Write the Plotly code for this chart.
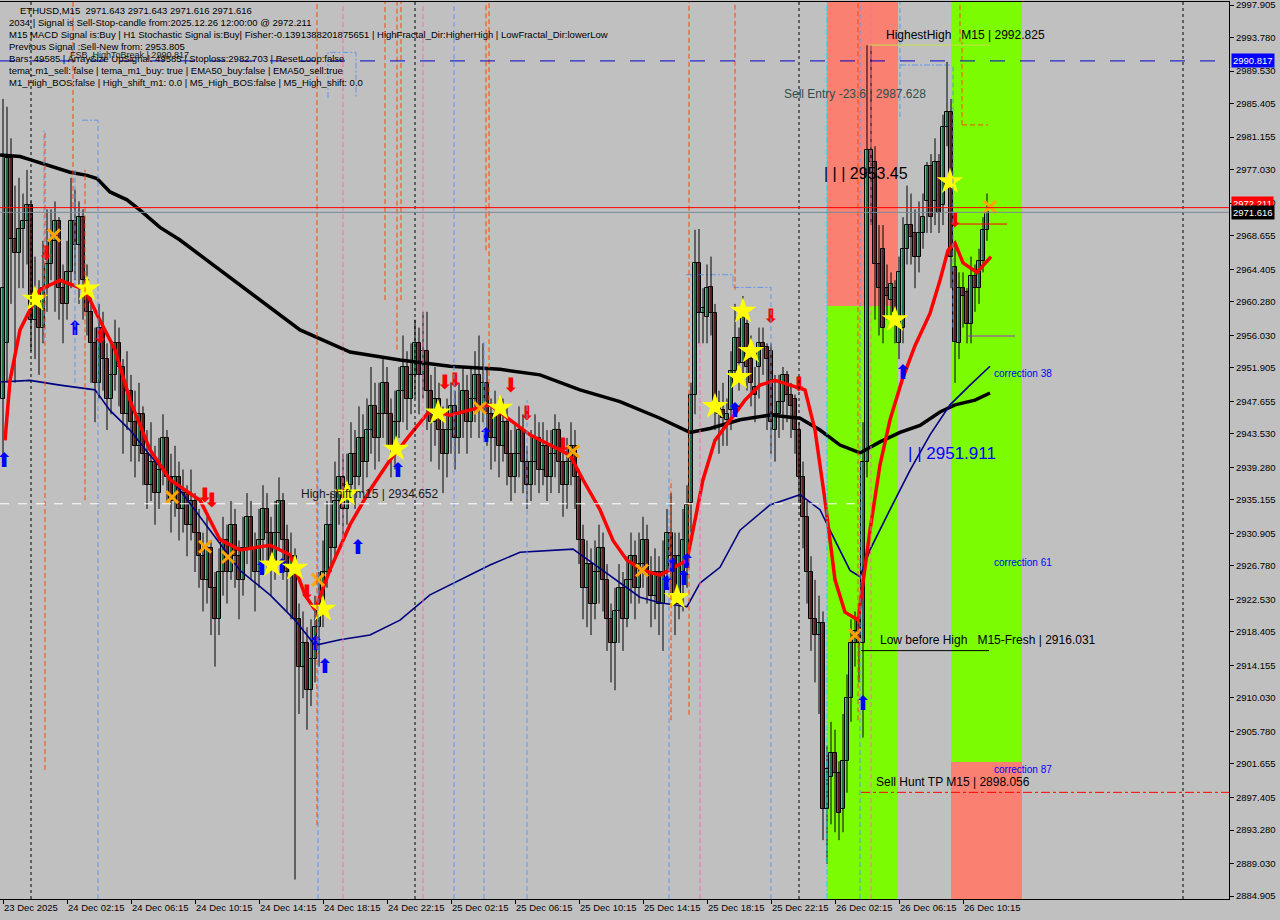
import plotly.graph_objects as go

# ---------------- data ----------------
opens = [2948,2955,2978.5,2968.2,2966.5,2969.5,2970.5,2972.5,2958,2961,2957,2962,2965,2968,2970.5,2962,2960,2964,2970.5,2967.5,
         2971,2963,2959,2955,2950,2957,2953,2948,2951,2955,2952,2946,2949,2945,2942,2946,2941,2937,2940,2936,
         2939,2943,2938,2935,2938,2934,2936,2932,2935,2931,2928,2925,2929,2924,2920,2926,2930,2926,2932,2928,
         2925,2929,2933,2929,2926,2930,2934,2931,2927,2931,2935,2930,2926,2928,2920,2914,2917,2911,2915,2919,
         2922,2926,2932,2929,2935,2938,2934,2937,2941,2938,2943,2940,2944,2947,2943,2946,2950,2946,2942,2945,
         2949,2952,2948,2951,2955,2951,2954,2949,2945,2948,2944,2941,2944,2947,2943,2946,2949,2945,2948,2951,
         2947,2950,2946,2943,2946,2942,2945,2941,2938,2941,2944,2940,2937,2940,2943,2939,2942,2938,2941,2944,
         2940,2937,2940,2942,2938,2930,2924,2927,2922,2926,2929,2925,2920,2917,2921,2924,2920,2925,2928,2924,
         2927,2930,2926,2923,2926,2922,2926,2931,2928,2922,2926,2927.5,2934.8,2948.4,2965.2,2958.8,2958.4,2962.2,2958.8,2947.4,
         2946.5,2945.3,2946.5,2951.5,2955.7,2952.5,2957.5,2953,2949.5,2952,2955,2954.5,2954,2944,2946,2947.5,2951,2948.5,2948,2944,
         2938,2933,2926,2920,2918,2919.5,2896,2900,2903,2900.5,2896,2902,2910,2917,2920,2917,2940,2979.5,2978,2965,
         2967,2962,2960.5,2962,2955,2957,2967,2970,2969,2966,2969,2973,2977.5,2973,2978,2972.5,2982.5,2984.3,2964.7,2955,
         2962,2961.5,2957.5,2963.5,2962,2965.5,2969.4]
highs = [2986,2985,2981,2975,2976,2974,2977,2973,2966,2963,2968,2972,2972,2973,2971,2965,2968,2976,2974.5,2973,
         2972,2965,2962,2957,2960,2959,2955,2955,2958,2957,2953,2954,2951,2949,2950,2947,2944,2945,2942,2943,
         2946,2944,2941,2942,2940,2939,2937,2939,2936,2934,2931,2933,2930,2926,2929,2933,2932,2935,2934,2930,
         2933,2936,2935,2931,2934,2937,2936,2933,2935,2938,2936,2932,2931,2929,2922,2921,2919,2920,2923,2926,
         2930,2935,2936,2940,2943,2941,2941,2945,2944,2947,2946,2948,2952,2950,2950,2953,2952,2948,2949,2952,
         2956,2954,2955,2958,2957,2959,2959,2951,2952,2950,2947,2948,2950,2949,2950,2952,2951,2952,2954,2956,
         2955,2952,2948,2949,2948,2948,2947,2944,2945,2947,2946,2942,2944,2946,2945,2945,2944,2944,2946,2945,
         2942,2943,2945,2944,2939,2932,2930,2929,2930,2932,2931,2927,2922,2924,2927,2926,2928,2931,2930,2931,
         2933,2932,2928,2929,2928,2930,2934,2936,2931,2931,2934,2937,2950,2969.4,2969.5,2962,2965,2966,2960,2949,
         2950,2948,2954,2960,2957,2961,2958,2956,2952,2957,2957,2955,2955,2951,2951,2952,2951.5,2950,2948.5,2945,
         2940,2935,2928,2925,2923,2921,2904,2907,2906,2902,2908,2913,2920,2921,2922,2945,2992.8,2992.8,2980,2970,
         2970,2965,2964,2963,2966,2971,2975,2974,2972,2973,2974,2978,2979,2981,2979,2984,2990.7,2986,2968,2964,
         2964,2962,2966,2965,2967,2971,2974]
lows = [2940,2950,2960,2950,2962,2962,2965,2954,2953,2951,2955,2959,2963,2959,2958,2955,2958,2962,2963,2960,
        2958,2956,2950,2945,2948,2949,2944,2946,2949,2947,2941,2944,2940,2938,2940,2937,2934,2935,2932,2934,
        2937,2935,2931,2933,2930,2931,2928,2930,2926,2924,2921,2922,2918,2914,2918,2923,2922,2925,2924,2920,
        2923,2927,2925,2921,2924,2927,2926,2923,2925,2929,2925,2921,2920,2887,2908,2910,2906,2909,2912,2914,
        2919,2924,2926,2928,2932,2930,2932,2935,2934,2937,2936,2938,2941,2939,2940,2943,2942,2938,2939,2943,
        2945,2944,2946,2948,2946,2948,2944,2940,2942,2939,2936,2938,2941,2939,2941,2943,2941,2943,2945,2943,
        2945,2942,2939,2940,2938,2940,2937,2935,2936,2938,2936,2934,2935,2937,2936,2937,2935,2936,2938,2936,
        2933,2934,2937,2934,2927,2920,2919,2918,2920,2922,2921,2916,2912,2911,2917,2916,2919,2922,2920,2922,
        2924,2922,2919,2920,2918,2916,2924,2923,2918,2920,2921,2924,2931,2946,2955,2955,2955,2956,2944,2941,
        2942,2942,2944,2950,2949,2951,2949,2947,2945,2948,2951,2944,2941,2940,2943,2944,2945,2943,2941,2935,
        2929,2922,2916,2912,2908,2892,2889,2894,2893,2892,2893,2898,2907,2914,2912,2905,2938,2970,2958,2956,
        2955,2958,2958,2955,2953,2955,2965,2965,2962,2964,2967,2969,2969,2970,2969,2970,2980,2962,2950,2953,
        2957,2955,2955,2959,2960,2964,2968]
closes = [2962,2978.5,2968.2,2966.5,2969.5,2970.5,2972.5,2958,2961,2957,2962,2965,2968,2970.5,2962,2960,2964,2970.5,2967.5,2971,
          2963,2959,2955,2950,2957,2953,2948,2951,2955,2952,2946,2949,2945,2942,2946,2941,2937,2940,2936,2939,
          2943,2938,2935,2938,2934,2936,2932,2935,2931,2928,2925,2929,2924,2920,2926,2930,2926,2932,2928,2925,
          2929,2933,2929,2926,2930,2934,2931,2927,2931,2935,2930,2926,2928,2920,2914,2917,2911,2915,2919,2922,
          2926,2932,2929,2935,2938,2934,2937,2941,2938,2943,2940,2944,2947,2943,2946,2950,2946,2942,2945,2949,
          2952,2948,2951,2955,2951,2954,2949,2945,2948,2944,2941,2944,2947,2943,2946,2949,2945,2948,2951,2947,
          2950,2946,2943,2946,2942,2945,2941,2938,2941,2944,2940,2937,2940,2943,2939,2942,2938,2941,2944,2940,
          2937,2940,2942,2938,2930,2924,2927,2922,2926,2929,2925,2920,2917,2921,2924,2920,2925,2928,2924,2927,
          2930,2926,2923,2926,2922,2926,2931,2928,2922,2928,2930,2934.5,2948.4,2965.2,2958.8,2959.5,2962,2958.8,2947.4,2946,
          2945.5,2946,2951.5,2955.7,2952.5,2958.5,2952,2950,2948.5,2955,2954.5,2953,2945,2946,2947.5,2951,2948.5,2947,2944,2938,
          2933,2926,2920,2918,2919.5,2896,2901,2903,2900.5,2895.5,2902,2910,2917,2918.5,2917,2940,2979.5,2978,2965,2962,
          2957,2961,2962.5,2959,2964,2967,2970,2968.5,2966,2969,2971,2977.5,2971,2978,2971.5,2982.4,2984.3,2966,2955.2,2962,
          2961,2957.5,2963.5,2962,2965.5,2969.4,2971.616]

date_labels = ["23 Dec 2025", "24 Dec 02:15", "24 Dec 06:15", "24 Dec 10:15", "24 Dec 14:15", "24 Dec 18:15",
               "24 Dec 22:15", "25 Dec 02:15", "25 Dec 06:15", "25 Dec 10:15", "25 Dec 14:15", "25 Dec 18:15",
               "25 Dec 22:15", "26 Dec 02:15", "26 Dec 06:15", "26 Dec 10:15"]
date_label_bars = [0, 16, 32, 48, 64, 80, 96, 112, 128, 144, 160, 176, 192, 208, 224, 240]
price_ticks = [2997.905, 2993.780, 2989.530, 2985.405, 2981.155, 2977.030, 2972.780, 2968.655, 2964.405,
               2960.280, 2956.030, 2951.905, 2947.655, 2943.530, 2939.280, 2935.155, 2930.905, 2926.780,
               2922.530, 2918.405, 2914.155, 2910.030, 2905.780, 2901.655, 2897.405, 2893.280, 2889.030, 2884.905]

# moving averages (bar index, price)
ema_slow_x = [-0.75, 4.25, 6.75, 9.75, 16.75, 21, 23.5, 26.75, 31, 34.25, 39.25, 44.25, 49.25, 61.75, 74.25, 86.75,
              99.25, 111.75, 124.25, 134.25, 144.25, 154.25, 164.25, 171.75, 176.75, 184.25, 191.75, 199.25, 204.25,
              209.25, 214.25, 219.25, 224.25, 229.25, 234.25, 238, 243, 246.75]
ema_slow_y = [2978.9, 2978.7, 2978.3, 2977.8, 2976.7, 2976.3, 2975.9, 2974.2, 2973.2, 2971.9, 2969.7, 2968.1, 2966.2,
              2961.5, 2956.7, 2953.9, 2952.9, 2952.1, 2951.7, 2951.0, 2949.1, 2947.6, 2945.5, 2943.7, 2944.2, 2945.3,
              2945.9, 2945.5, 2944.0, 2942.1, 2941.1, 2942.5, 2943.7, 2944.6, 2946.3, 2947.2, 2947.8, 2948.7]
ema_fast_x = [0.5, 1.75, 4.25, 9.25, 14.25, 20.5, 24.25, 28, 31.75, 36.75, 41.75, 49.25, 54.25, 59.25, 66.75, 71.75,
              75.5, 78, 81.75, 86.75, 91.75, 96.75, 101.75, 106.75, 111.75, 116.75, 121.75, 126.75, 131.75, 136.75,
              141.75, 145, 149.25, 152.5, 156, 160, 164.25, 167.5, 171, 172.5, 175, 178, 181.75, 185.5, 189.25, 193,
              196.75, 200.5, 203, 205.5, 208, 210.5, 213.75, 214.75, 216.75, 219.25, 221.75, 224.75, 228, 231.75,
              234.25, 236.25, 238, 240, 243.5, 247]
ema_fast_y = [2942.7, 2950.3, 2956.7, 2961.8, 2963.0, 2961.8, 2957.9, 2954.2, 2947.8, 2941.5, 2937.7, 2935.1, 2930.1,
              2928.8, 2929.4, 2928.2, 2923.1, 2921.2, 2926.3, 2932.0, 2936.4, 2940.2, 2943.4, 2946.5, 2945.9, 2946.5,
              2947.2, 2945.3, 2943.4, 2942.1, 2940.8, 2937.7, 2933.9, 2930.0, 2927.5, 2926.2, 2925.6, 2926.5, 2927.5,
              2931.3, 2937.7, 2942.7, 2945.3, 2947.8, 2949.7, 2950.3, 2949.7, 2949.1, 2944.0, 2935.1, 2925.0, 2920.9,
              2919.9, 2923.7, 2931.3, 2939.6, 2945.3, 2950.3, 2954.7, 2958.8, 2963.0, 2966.8, 2967.7, 2965.2, 2964.0,
              2966.0]
ma_navy_x = [-0.75, 6.75, 14.25, 23, 26.75, 31.75, 36.75, 44.25, 51.75, 59.25, 66.75, 73, 78, 84.25, 91.75, 99.25,
             106.75, 114.25, 121.75, 129.25, 139.25, 142.5, 147.5, 154.25, 159.25, 164.25, 171, 174.25, 179.25,
             184.25, 191.75, 199.25, 204.25, 208, 211.75, 214.25, 216.75, 221.75, 226.75, 231.75, 236.75, 241.75, 246.75]
ma_navy_y = [2950.1, 2950.3, 2949.7, 2949.1, 2946.5, 2944.0, 2940.8, 2936.4, 2931.3, 2926.2, 2923.1, 2919.9, 2916.7,
             2917.4, 2918.0, 2919.9, 2923.1, 2925.0, 2926.9, 2928.5, 2928.8, 2928.9, 2927.1, 2924.6, 2922.8, 2922.1,
             2921.6, 2924.6, 2926.6, 2931.3, 2934.5, 2935.8, 2933.9, 2930.0, 2926.2, 2925.4, 2928.8, 2933.9, 2938.9,
             2943.4, 2947.2, 2949.7, 2952.1]

# signal markers (bar index, price)
star_x = [8, 21, 67.25, 73, 80, 86, 98.25, 108.75, 124.25, 168.5, 178, 184, 185, 187, 223, 236.75]
star_y = [2960.6, 2961.9, 2926.9, 2926.5, 2921.3, 2935.9, 2941.6, 2946.2, 2946.8, 2922.8, 2947.0, 2950.7, 2959.1,
          2954.0, 2958.0, 2975.5]
cross_x = [12.75, 42.25, 50.5, 56.25, 78.75, 119.25, 142.5, 159.75, 213, 246.75]
cross_y = [2968.7, 2935.5, 2929.2, 2927.9, 2925.0, 2946.8, 2941.3, 2926.2, 2918.0, 2972.3]
down_x = [10.75, 24.25, 50.5, 52.25, 76, 110.5, 113, 127, 131, 140, 192, 199, 238]
down_y = [2966.2, 2955.7, 2935.5, 2934.9, 2923.2, 2949.8, 2950.1, 2949.5, 2945.9, 2941.9, 2958.2, 2949.6, 2970.4]
up_x = [0.25, 18, 64.75, 69.75, 78.25, 80.5, 88.75, 98.75, 120.75, 166, 167.25, 170.25, 171, 183, 215, 225]
up_y = [2939.9, 2956.7, 2926.2, 2926.5, 2916.7, 2913.8, 2928.9, 2938.7, 2943.1, 2924.4, 2926.6, 2925.0, 2927.1,
        2946.3, 2909.1, 2951.1]

# zones: [x0, x1] in bars, split price, upper colour, lower colour
zone_x0 = [206, 237]
zone_x1 = [223.75, 254.75]
zone_split = [2959.73, 2901.9]
zone_top = ["#fa8072", "#7cfc00"]
zone_bottom = ["#7cfc00", "#fa8072"]

# levels
fsb_level = 2990.817
signal_level = 2972.211
bid_level = 2971.616
highshift_level = 2934.652
tp_level = 2898.056
lowbefore_level = 2916.031
highest_level = 2992.825
entry_stop_level = 2970.13
purple_level = 2955.93

X0, X1 = -0.75, 306.5
Y0, Y1 = 2884.53, 2998.29

day_sep_bars = [7, 103, 199, 295]
# indicator vertical segments: bar, top price, bottom price
blue_seg = [(23.75, 2983.3, Y0), (78.75, 2939.0, Y0), (112.75, Y1, Y0), (120.25, 2955.4, Y0), (131, 2947.8, Y0),
            (166.5, 2944.0, Y0), (192, 2962.1, Y0), (214.25, Y1, Y0), (10.25, 2982.0, 2955.4), (18, 2977.0, 2950.0),
            (224.25, Y1, 2983.7), (237.5, 2990.3, 2957.0)]
pink_seg = [(85, Y1, Y0), (105, Y1, Y0), (174.25, 2955.4, Y0), (217, Y1, Y0)]
orange_seg = [(10.5, 2982.0, 2900.9), (17.5, Y1, 2972.3), (20.5, 2977.0, 2935.1), (78.5, Y1, 2893.9),
              (95.5, Y1, 2960.5), (98.5, Y1, 2954.2), (99.5, Y1, 2960.5), (120.75, Y1, 2966.8), (121.5, Y1, 2947.8),
              (167, 2937.7, 2907.2), (171.5, Y1, 2907.9), (183, Y1, 2961.8), (213.75, Y1, 2907.2),
              (239.25, Y1, 2993.2), (239.75, 2993.2, 2982.7)]
cyan_seg = [(206, Y1, Y0)]
# indicator step lines (bar, price)
blue_step_x = [[81.25, 81.25, 88.25, 88.25], [170.75, 182.5, 182.5, 192], [224.25, 236.75], [19.75, 23.75, 23.75]]
blue_step_y = [[2986.1, 2991.9, 2991.9, 2986.1], [2963.7, 2963.7, 2962.1, 2962.1], [2990.3, 2990.3], [2983.3, 2983.3, 2983.3]]
orange_step_x = [[239.75, 246.25]]
orange_step_y = [[2982.7, 2982.7]]

fig = go.Figure()

for k in range(len(zone_x0)):
    fig.add_shape(type="rect", x0=zone_x0[k], x1=zone_x1[k], y0=zone_split[k], y1=Y1,
                  fillcolor=zone_top[k], line_width=0, layer="below")
    fig.add_shape(type="rect", x0=zone_x0[k], x1=zone_x1[k], y0=Y0, y1=zone_split[k],
                  fillcolor=zone_bottom[k], line_width=0, layer="below")

for b in day_sep_bars:
    fig.add_shape(type="line", x0=b, x1=b, y0=Y0, y1=Y1, line=dict(color="black", width=1, dash="dot"))
for segs, col, dsh in [(blue_seg, "#6495ed", "5px,3px"), (pink_seg, "#ff69b4", "5px,3px"),
                       (orange_seg, "#ff4500", "5px,3px"), (cyan_seg, "#00e5ee", "6px,2px,2px,2px")]:
    for b, top, bot in segs:
        fig.add_shape(type="line", x0=b, x1=b, y0=bot, y1=top, line=dict(color=col, width=1, dash=dsh))
for xs, ys in zip(blue_step_x, blue_step_y):
    fig.add_trace(go.Scatter(x=xs, y=ys, mode="lines", line=dict(color="#6495ed", width=1, dash="6px,2px,2px,2px"),
                             showlegend=False, hoverinfo="skip"))
for xs, ys in zip(orange_step_x, orange_step_y):
    fig.add_trace(go.Scatter(x=xs, y=ys, mode="lines", line=dict(color="#ff4500", width=1, dash="5px,3px"),
                             showlegend=False, hoverinfo="skip"))

# horizontal levels
fig.add_shape(type="line", x0=X0, x1=X1, y0=fsb_level, y1=fsb_level, line=dict(color="#0000cd", width=1, dash="longdash"))
fig.add_shape(type="line", x0=X0, x1=X1, y0=signal_level, y1=signal_level, line=dict(color="red", width=1))
fig.add_shape(type="line", x0=X0, x1=X1, y0=bid_level, y1=bid_level, line=dict(color="#778899", width=1))
fig.add_shape(type="line", x0=X0, x1=214.5, y0=highshift_level, y1=highshift_level, line=dict(color="white", width=1, dash="dash"))
fig.add_shape(type="line", x0=214.5, x1=X1, y0=tp_level, y1=tp_level, line=dict(color="red", width=1, dash="dashdot"))
fig.add_shape(type="line", x0=214.5, x1=246.5, y0=lowbefore_level, y1=lowbefore_level, line=dict(color="black", width=1))
fig.add_shape(type="line", x0=216.5, x1=246.75, y0=highest_level, y1=highest_level, line=dict(color="#c8e04a", width=1))
fig.add_shape(type="line", x0=237.5, x1=251, y0=entry_stop_level, y1=entry_stop_level, line=dict(color="red", width=1))
fig.add_shape(type="line", x0=241, x1=253, y0=purple_level, y1=purple_level, line=dict(color="#9932cc", width=1))

# candles: wicks then bodies
n = len(closes)
idx = list(range(n))
wx, wy = [], []
for i in range(n):
    wx += [i, i, None]
    wy += [lows[i], highs[i], None]
fig.add_trace(go.Scatter(x=wx, y=wy, mode="lines", line=dict(color="black", width=1), showlegend=False, hoverinfo="skip"))
body_base = [min(opens[i], closes[i]) for i in range(n)]
body_h = [max(abs(closes[i] - opens[i]), 0.12) for i in range(n)]
body_col = ["#3fd98b" if closes[i] >= opens[i] else "#b33a46" for i in range(n)]
fig.add_trace(go.Bar(x=idx, y=body_h, base=body_base, width=0.8, marker=dict(color=body_col, line=dict(color="black", width=1)),
                     showlegend=False, hoverinfo="skip"))

fig.add_trace(go.Scatter(x=ema_slow_x, y=ema_slow_y, mode="lines", line=dict(color="black", width=3.5), showlegend=False))
fig.add_trace(go.Scatter(x=ma_navy_x, y=ma_navy_y, mode="lines", line=dict(color="#000080", width=1.6), showlegend=False))
fig.add_trace(go.Scatter(x=ema_fast_x, y=ema_fast_y, mode="lines", line=dict(color="#ff0000", width=3.5), showlegend=False))

fig.add_trace(go.Scatter(x=cross_x, y=cross_y, mode="markers", showlegend=False,
                         marker=dict(symbol="x-thin", size=12, line=dict(color="#ffa500", width=3))))
fig.add_trace(go.Scatter(x=down_x, y=down_y, mode="text", text=["\u2b07"] * len(down_x), showlegend=False,
                         textfont=dict(family="DejaVu Sans", size=20, color="#ff0000")))
fig.add_trace(go.Scatter(x=up_x, y=up_y, mode="text", text=["\u2b06"] * len(up_x), showlegend=False,
                         textfont=dict(family="DejaVu Sans", size=20, color="#0000ff")))
fig.add_trace(go.Scatter(x=star_x, y=star_y, mode="markers", showlegend=False,
                         marker=dict(symbol="star", size=20, color="#ffff00", line=dict(width=0))))

FONT = "Liberation Sans"
ann = []
def txt(x, y, s, size=12, color="black", anchor="left"):
    ann.append(dict(x=x, y=y, xref="x", yref="y", text=s, showarrow=False, xanchor=anchor, yanchor="middle",
                    font=dict(family=FONT, size=size, color=color)))

NB = "\u00a0"
txt(220.25, 2994.1, "HighestHigh" + NB * 3 + "M15 | 2992.825")
txt(194.75, 2986.6, "Sell Entry -23.6 | 2987.628", color="#2f4f4f")
txt(204.75, 2976.6, "| | | 2953.45", size=16)
txt(225.75, 2941.0, "| | 2951.911", size=17, color="#0000ff")
txt(247.25, 2951.2, "correction 38", size=10, color="#0000ff")
txt(247.25, 2927.2, "correction 61", size=10, color="#0000ff")
txt(247.25, 2901.0, "correction 87", size=10, color="#0000ff")
txt(218.75, 2917.4, "Low before High" + NB * 3 + "M15-Fresh | 2916.031")
txt(217.75, 2899.4, "Sell Hunt TP M15 | 2898.056")
txt(74.0, 2935.9, "High-shift m15 | 2934.652", color="#1a1a1a")
txt(16.25, 2991.6, "FSB_HighToBreak | 2990.817", size=9, color="#1a1a1a")

info = ["ETHUSD,M15" + NB * 2 + "2971.643 2971.643 2971.616 2971.616",
        "2034 | Signal is Sell-Stop-candle from:2025.12.26 12:00:00 @ 2972.211",
        "M15 MACD Signal is:Buy | H1 Stochastic Signal is:Buy| Fisher:-0.1391388201875651 | HighFractal_Dir:HigherHigh | LowFractal_Dir:lowerLow",
        "Previous Signal :Sell-New from: 2953.805",
        "Bars: 49585 | ArraySize UpSignal: 49585 | Stoploss:2982.703 | ResetLoop:false",
        "tema_m1_sell: false | tema_m1_buy: true | EMA50_buy:false | EMA50_sell:true",
        "M1_High_BOS:false | High_shift_m1: 0.0 | M5_High_BOS:false | M5_High_shift: 0.0"]
info_y = [10, 22, 35, 47, 59, 71, 83]
for k, s in enumerate(info):
    xpx = 18 if k == 0 else 7
    ann.append(dict(xref="paper", yref="paper", x=xpx / 1229, y=1 - (info_y[k] - 2) / 897, text=s, showarrow=False,
                    xanchor="left", yanchor="middle", font=dict(family=FONT, size=9.5, color="black")))

# right axis price boxes
for lvl, shown, col in [(fsb_level, fsb_level, "#0000ff"), (signal_level + 0.5, signal_level, "#ff0000"), (bid_level, bid_level, "black")]:
    ann.append(dict(xref="paper", yref="y", x=1, y=lvl, xshift=2, text=f"{shown:.3f}",
                    showarrow=False, xanchor="left", yanchor="middle", bgcolor=col, borderpad=1,
                    font=dict(family=FONT, size=9.5, color="white")))

fig.update_layout(
    width=1280, height=920, margin=dict(l=0, r=51, t=2, b=21, autoexpand=False),
    paper_bgcolor="#c0c0c0", plot_bgcolor="#c0c0c0", showlegend=False, barmode="overlay", bargap=0,
    annotations=ann, hovermode=False,
    xaxis=dict(range=[X0, X1], showgrid=False, zeroline=False, automargin=False, tickangle=0,
               tickvals=date_label_bars, ticktext=date_labels, ticks="outside", ticklen=4, tickcolor="black",
               ticklabelposition="outside right", ticklabeloverflow="allow",
               tickfont=dict(family=FONT, size=9.5, color="black"),
               showline=True, linecolor="black", linewidth=1, mirror=True),
    yaxis=dict(range=[Y0, Y1], side="right", showgrid=False, zeroline=False, automargin=False,
               tickvals=price_ticks, ticktext=[f"{v:.3f}" for v in price_ticks], ticks="outside", ticklen=4,
               ticklabeloverflow="allow",
               tickcolor="black", tickfont=dict(family=FONT, size=9.5, color="black"),
               showline=True, linecolor="black", linewidth=1, mirror=True),
)

fig.write_html("out.html", config={"displayModeBar": False},
               post_script="document.body.style.margin='0';document.body.style.overflow='hidden';")
